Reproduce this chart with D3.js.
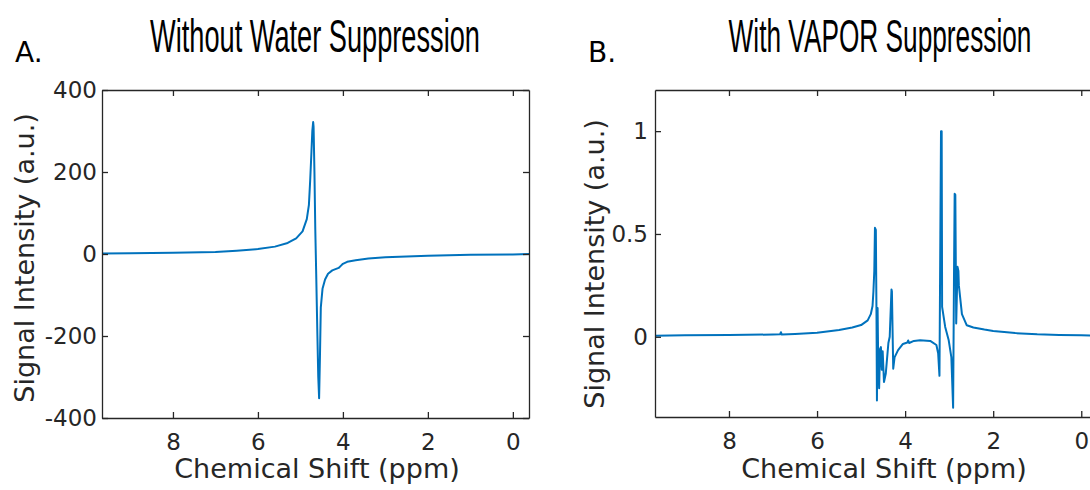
<!DOCTYPE html>
<html>
<head>
<meta charset="utf-8">
<script src="https://cdn.jsdelivr.net/npm/d3@7"></script>
<style>
  body { margin: 0; background: #fff; }
  svg text { font-family: "DejaVu Sans", Verdana, sans-serif; fill: #262626; }
</style>
</head>
<body>
<svg id="main_canvas" width="1090" height="490"></svg>
<script>
    // shared x ticks (ppm, axis runs right-to-left)
    const xTicks = [8, 6, 4, 2, 0];

    // panel A - no water suppression
    const ppmA = [9.67, 9.0, 8.0, 7.0, 6.5, 6.0, 5.6, 5.3, 5.1, 4.95, 4.85, 4.80, 4.77, 4.74, 4.72, 4.70,
        4.69, 4.67, 4.65, 4.63, 4.60, 4.58, 4.56, 4.54, 4.52, 4.48, 4.42, 4.35, 4.25, 4.10, 4.05, 4.00,
        3.90, 3.70, 3.4, 3.0, 2.5, 2.0, 1.0, 0, -0.38];
    const sigA = [1, 2, 3, 5, 8, 12, 18, 27, 38, 55, 85, 120, 180, 250, 300, 322,
        310, 200, 60, -40, -200, -300, -352, -250, -130, -85, -62, -48, -40, -34, -29, -24,
        -19, -15, -11, -8, -6, -4, -2, -1, 0];
    const yTicksA = [-400, -200, 0, 200, 400];

    // panel B - VAPOR suppression
    const ppmB = [9.68, 9.0, 8.0, 7.0, 6.84, 6.82, 6.80, 6.5, 6.0, 5.5, 5.2, 5.0, 4.85, 4.78, 4.74, 4.72,
        4.70, 4.685, 4.665, 4.65, 4.64, 4.625, 4.615, 4.59, 4.57, 4.55, 4.53, 4.51, 4.48, 4.44, 4.38, 4.35,
        4.31, 4.30, 4.27, 4.24, 4.16, 4.05, 3.95, 3.93, 3.91, 3.80, 3.66, 3.43, 3.29, 3.25, 3.22, 3.20,
        3.185, 3.17, 3.16, 3.09, 3.01, 2.95, 2.91, 2.89, 2.875, 2.86, 2.84, 2.81, 2.79, 2.78, 2.71, 2.60,
        2.45, 2.2, 2.0, 1.5, 1.0, 0.5, 0, -0.4];
    const sigB = [0.005, 0.007, 0.009, 0.011, 0.012, 0.022, 0.011, 0.014, 0.02, 0.033, 0.045, 0.057, 0.08, 0.11, 0.15, 0.22,
        0.32, 0.53, 0.52, 0.10, -0.31, 0.14, -0.05, -0.25, -0.06, -0.05, -0.16, -0.07, -0.22, -0.18, -0.03, 0.0,
        0.23, 0.22, -0.155, -0.10, -0.065, -0.035, -0.028, -0.018, -0.03, -0.02, -0.017, -0.02, -0.04, -0.08, -0.19, 0.5,
        1.0, 1.0, 0.145, 0.048, -0.017, -0.10, -0.345, 0.3, 0.695, 0.69, 0.065, 0.34, 0.32, 0.25, 0.11, 0.056,
        0.045, 0.035, 0.028, 0.018, 0.012, 0.009, 0.007, 0.006];
    const yTicksB = [0, 0.5, 1];

    const svg = d3.select("#main_canvas");
    const INK = "#262626";
    const LINE = "#0072BD";

    const drawPanel = (p) => {
        const x = d3.scaleLinear().domain(p.xDomain).range([p.left, p.right]);
        const y = d3.scaleLinear().domain(p.yDomain).range([p.bottom, p.top]);
        const g = svg.append("g");

        const clipId = "clip" + p.id;
        g.append("clipPath").attr("id", clipId)
            .append("rect")
            .attr("x", p.left).attr("y", p.top)
            .attr("width", p.right - p.left).attr("height", p.bottom - p.top);

        g.append("path")
            .datum(d3.zip(p.ppm, p.sig))
            .attr("clip-path", `url(#${clipId})`)
            .attr("fill", "none")
            .attr("stroke", LINE)
            .attr("stroke-width", 2)
            .attr("stroke-linejoin", "round")
            .attr("d", d3.line().x(d => x(d[0])).y(d => y(d[1])));

        // matlab style box, ticks pointing in on all sides
        const fmt = d => String(d);
        const styleAxis = (a) => {
            a.selectAll(".domain").attr("stroke", INK).attr("stroke-width", 1.3);
            a.selectAll(".tick line").attr("stroke", INK).attr("stroke-width", 1.3);
            a.selectAll("text").attr("fill", INK).style("font-size", "23px")
                .style("font-family", "'DejaVu Sans', Verdana, sans-serif");
        };
        g.append("g").attr("transform", `translate(0,${p.bottom})`)
            .call(d3.axisBottom(x).tickValues(xTicks).tickFormat(fmt).tickSizeInner(-6).tickSizeOuter(0).tickPadding(16))
            .call(styleAxis);
        g.append("g").attr("transform", `translate(0,${p.top})`)
            .call(d3.axisTop(x).tickValues(xTicks).tickFormat("").tickSizeInner(-6).tickSizeOuter(0))
            .call(styleAxis);
        g.append("g").attr("transform", `translate(${p.left},0)`)
            .call(d3.axisLeft(y).tickValues(p.yTicks).tickFormat(fmt).tickSizeInner(-6).tickSizeOuter(0).tickPadding(p.yPad))
            .call(styleAxis);
        g.append("g").attr("transform", `translate(${p.right},0)`)
            .call(d3.axisRight(y).tickValues(p.yTicks).tickFormat("").tickSizeInner(-6).tickSizeOuter(0))
            .call(styleAxis);

        // labels
        g.append("text")
            .attr("x", p.xLabelX).attr("y", 478)
            .attr("text-anchor", "middle")
            .style("font-size", "27px")
            .text("Chemical Shift (ppm)");
        g.append("text")
            .attr("transform", `translate(${p.yLabelX},${p.yLabelY}) rotate(-90)`)
            .attr("text-anchor", "middle")
            .style("font-size", "27px")
            .text("Signal Intensity (a.u.)");

        // title is a squeezed regular sans, scaled to the measured width
        const tg = g.append("g");
        const t = tg.append("text")
            .attr("text-anchor", "middle")
            .style("font-family", "'Liberation Sans', Arial, sans-serif")
            .style("font-size", "47px")
            .style("fill", "#000")
            .text(p.title);
        const sx = p.titleLen / t.node().getComputedTextLength();
        tg.attr("transform", `translate(${p.titleX},52) scale(${sx},1)`);

        g.append("text")
            .attr("x", p.letterX).attr("y", 62)
            .style("font-size", "28px")
            .style("fill", "#000")
            .text(p.letter);
    };

    drawPanel({
        id: "A", ppm: ppmA, sig: sigA, yTicks: yTicksA,
        xDomain: [9.67, -0.38], yDomain: [-400, 400],
        left: 102, right: 529, top: 90, bottom: 418, yPad: 5,
        xLabelX: 317, yLabelX: 34, yLabelY: 258,
        title: "Without Water Suppression", titleX: 315, titleLen: 330,
        letter: "A.", letterX: 15
    });

    drawPanel({
        id: "B", ppm: ppmB, sig: sigB, yTicks: yTicksB,
        xDomain: [9.68, -0.38], yDomain: [-0.39, 1.2],
        left: 655, right: 1098, top: 90, bottom: 417, yPad: 7,
        xLabelX: 884, yLabelX: 604, yLabelY: 264,
        title: "With VAPOR Suppression", titleX: 880, titleLen: 303,
        letter: "B.", letterX: 588
    });
</script>
</body>
</html>
